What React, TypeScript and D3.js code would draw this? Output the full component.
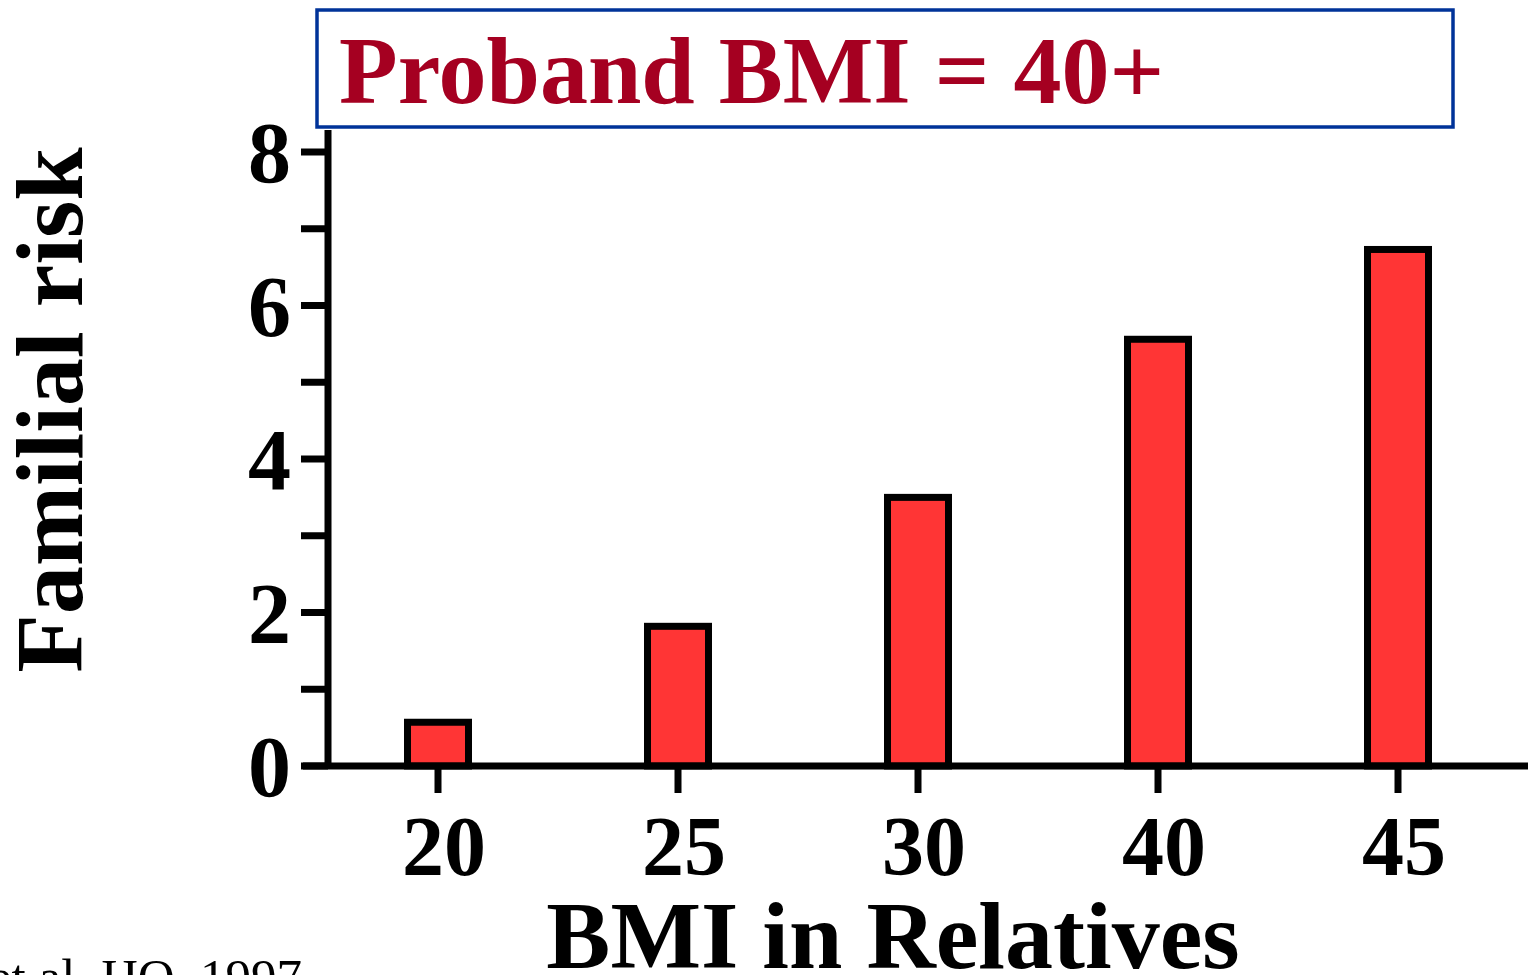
import React from 'react';
import * as d3 from 'd3';

// BMI category of relatives and the familial risk
const categories = ['20', '25', '30', '40', '45'];
const risks = [0.57, 1.82, 3.5, 5.56, 6.73];
const yTicks = [0, 1, 2, 3, 4, 5, 6, 7, 8];
const yLabels = [0, 2, 4, 6, 8];

const title = 'Proband BMI = 40+';
const xTitle = 'BMI in Relatives';
const yTitle = 'Familial risk';
const citation = 'et al. IJO, 1997';

const W = 1528;
const H = 975;
const font = '"Liberation Serif", "Times New Roman", serif';

const App = () => {
  const x = d3.scalePoint<string>()
    .domain(categories)
    .range([438, 1398]);

  const y = d3.scaleLinear()
    .domain([0, 8])
    .range([766, 152]);

  const barW = 61;
  const tickLen = 27;
  const axisW = 7;

  return (
    <div>
      <style>{'body { margin: 0; }'}</style>
      <svg width={W} height={H} style={{ display: 'block', background: '#fff' }}>
        {/* title box */}
        <rect x={317} y={10} width={1136} height={117} fill="#fff" stroke="#003399" strokeWidth={3.5} />
        <text x={339} y={103} fontFamily={font} fontWeight="bold" fontSize={96} fill="#A50021">
          {title}
        </text>

        {/* bars */}
        {categories.map((c, i) => (
          <rect
            key={c}
            x={(x(c) as number) - barW / 2}
            y={y(risks[i])}
            width={barW}
            height={y(0) - y(risks[i])}
            fill="#FF3535"
            stroke="#000"
            strokeWidth={7}
          />
        ))}

        {/* y axis */}
        <line x1={328} x2={328} y1={130} y2={y(0)} stroke="#000" strokeWidth={axisW} />
        {yTicks.map((t) => (
          <line key={t} x1={328 - tickLen} x2={328} y1={y(t)} y2={y(t)} stroke="#000" strokeWidth={axisW} />
        ))}
        {yLabels.map((t) => (
          <text
            key={t}
            x={291}
            y={y(t) + 30}
            textAnchor="end"
            fontFamily={font}
            fontWeight="bold"
            fontSize={86}
          >
            {t}
          </text>
        ))}

        {/* x axis */}
        <line x1={303} x2={W} y1={y(0)} y2={y(0)} stroke="#000" strokeWidth={axisW} />
        {categories.map((c) => (
          <line
            key={c}
            x1={x(c) as number}
            x2={x(c) as number}
            y1={y(0)}
            y2={y(0) + tickLen}
            stroke="#000"
            strokeWidth={axisW}
          />
        ))}
        {categories.map((c) => (
          <text
            key={c}
            x={(x(c) as number) + 6}
            y={875}
            textAnchor="middle"
            fontFamily={font}
            fontWeight="bold"
            fontSize={84}
          >
            {c}
          </text>
        ))}

        {/* axis titles */}
        <text x={893} y={968} textAnchor="middle" fontFamily={font} fontWeight="bold" fontSize={96}>
          {xTitle}
        </text>
        <text
          transform={`translate(82, ${410}) rotate(-90)`}
          textAnchor="middle"
          fontFamily={font}
          fontWeight="bold"
          fontSize={96}
        >
          {yTitle}
        </text>

        <text x={302} y={994} textAnchor="end" fontFamily={font} fontSize={51}>
          {citation}
        </text>
      </svg>
    </div>
  );
};

export default App;
